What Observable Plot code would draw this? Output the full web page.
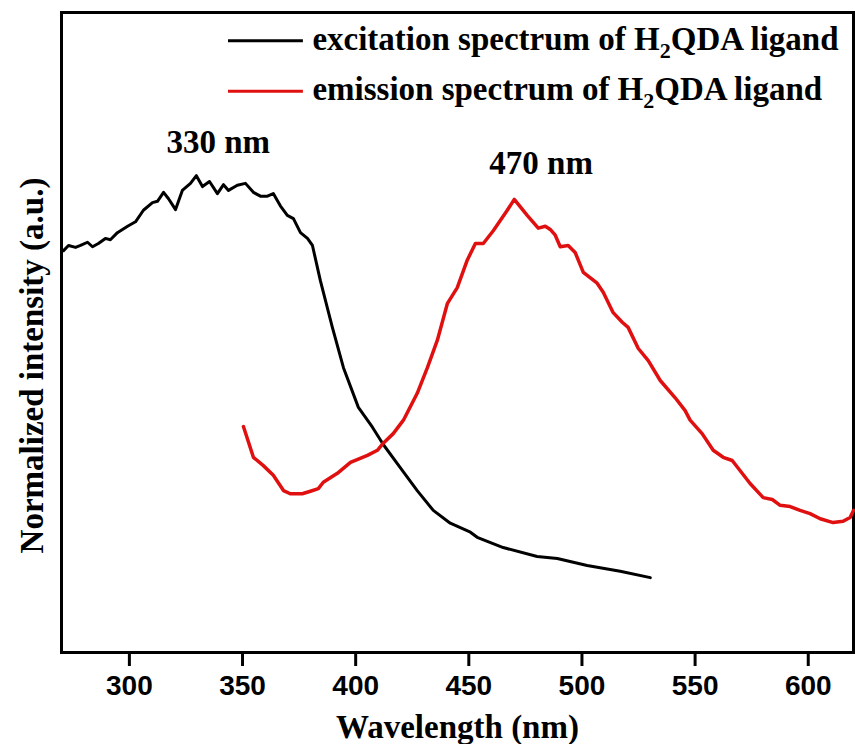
<!DOCTYPE html>
<html><head><meta charset="utf-8">
<script src="https://cdn.jsdelivr.net/npm/d3@7"></script>
<script src="https://cdn.jsdelivr.net/npm/@observablehq/plot@0.6"></script>
<style>body{margin:0;background:#fff} svg{display:block}</style>
</head><body><div id="chart"></div><script>
// Excitation spectrum (black)
const excWavelength = [270.9,273.1,276.2,278.4,281.5,283.7,286.3,289.4,291.6,294.7,299.2,302.7,306.2,310.2,312.4,315.1,317.3,320.4,323.4,327.0,329.6,332.3,335.4,338.9,341.6,343.8,347.7,351.3,354.8,357.9,361.0,363.6,366.7,369.8,372.5,375.6,378.7,380.9,384.4,389.7,394.6,401.2,407.4,412.2,419.7,427.2,434.3,441.8,450.7,453.7,465.2,480.2,489.1,502.3,516.9,530.2];
const excIntensity = [0.628,0.636,0.633,0.636,0.641,0.634,0.639,0.647,0.645,0.656,0.666,0.673,0.691,0.703,0.705,0.719,0.709,0.692,0.722,0.733,0.745,0.728,0.736,0.717,0.731,0.722,0.730,0.733,0.719,0.713,0.713,0.717,0.698,0.683,0.678,0.656,0.647,0.636,0.581,0.508,0.445,0.383,0.352,0.325,0.289,0.253,0.222,0.202,0.188,0.180,0.164,0.150,0.147,0.136,0.127,0.117];
// Emission spectrum (red)
const emWavelength = [350.4,354.8,359.2,363.6,368.1,371.1,376.4,380.0,383.5,385.7,391.9,397.7,405.2,409.6,412.2,416.6,421.1,427.2,431.7,436.1,440.5,444.9,449.3,452.9,456.4,460.8,463.9,467.0,470.1,475.8,480.7,483.8,486.0,488.2,490.4,493.9,497.0,500.6,506.7,509.4,513.8,517.8,520.4,524.9,529.3,534.6,541.2,545.6,547.8,553.1,558.0,562.4,566.4,574.3,580.1,584.1,587.6,592.0,596.4,600.8,605.3,611.0,615.4,618.5,620.0];
const emIntensity = [0.353,0.305,0.292,0.277,0.253,0.248,0.248,0.252,0.256,0.266,0.280,0.297,0.308,0.316,0.327,0.342,0.363,0.405,0.445,0.488,0.545,0.570,0.613,0.639,0.639,0.659,0.675,0.691,0.708,0.683,0.663,0.666,0.661,0.652,0.634,0.636,0.625,0.594,0.577,0.563,0.531,0.516,0.508,0.475,0.456,0.425,0.398,0.378,0.363,0.342,0.316,0.305,0.300,0.264,0.242,0.239,0.230,0.228,0.222,0.217,0.209,0.203,0.205,0.211,0.222];
const xTicks = [300,350,400,450,500,550,600];
const legendLabels = ["excitation spectrum of H2QDA ligand","emission spectrum of H2QDA ligand"];
const legendColors = ["#000000","#e01010"];
const legendLevels = [0.956,0.877];
const peakWavelengths = [330,470];
const peakLabels = ["330 nm","470 nm"];
const peakLevels = [0.781,0.747];

const exc = excWavelength.map((w,i)=>({w, v: excIntensity[i]}));
const em = emWavelength.map((w,i)=>({w, v: emIntensity[i]}));
const legend = legendLabels.map((t,i)=>({t, c: legendColors[i], y: legendLevels[i]}));
const peaks = peakLabels.map((t,i)=>({t, w: peakWavelengths[i], y: peakLevels[i]}));
const peakShift = [21, 27];

const serif = "'Liberation Serif','Times New Roman',serif";
const sans = "'Liberation Sans',Arial,sans-serif";

const plot = Plot.plot({
  width: 855, height: 744,
  marginTop: 12, marginRight: 2, marginBottom: 92, marginLeft: 61,
  style: {background: "#fff", color: "#000"},
  x: {domain: [270, 620]},
  y: {domain: [0, 1], axis: null},
  color: {type: "identity"},
  marks: [
    Plot.frame({stroke: "#000", strokeWidth: 3}),
    Plot.axisX({ticks: xTicks, tickSize: 14, tickPadding: 9, strokeWidth: 3, fontSize: 28, fontWeight: "bold", fontFamily: sans, label: null}),
    Plot.line(exc, {x: "w", y: "v", stroke: "#000", strokeWidth: 3, strokeLinejoin: "round"}),
    Plot.line(em, {x: "w", y: "v", stroke: legendColors[1], strokeWidth: 3.5, strokeLinejoin: "round"}),
    Plot.ruleY(legend, {y: "y", x1: 343.8, x2: 376.9, stroke: "c", strokeWidth: 3}),
    Plot.text(legend, {y: "y", x: 376.9, dx: 9, dy: 9, text: "t", textAnchor: "start", lineAnchor: "bottom", fontSize: 33, fontWeight: "bold", fontFamily: serif, fill: "#000"}),
    ...peaks.map((p, i) => Plot.text([p], {x: "w", y: "y", text: "t", dx: peakShift[i], fontSize: 33, fontWeight: "bold", fontFamily: serif, lineAnchor: "bottom", fill: "#000"})),
    Plot.text(["Wavelength (nm)"], {frameAnchor: "bottom", dy: 85, lineAnchor: "bottom", fontSize: 33, fontWeight: "bold", fontFamily: serif, fill: "#000"}),
    Plot.text(["Normalized intensity (a.u.)"], {frameAnchor: "left", textAnchor: "middle", dx: -19, dy: 33, rotate: -90, lineAnchor: "bottom", fontSize: 33, fontWeight: "bold", fontFamily: serif, fill: "#000"})
  ]
});
document.getElementById("chart").appendChild(plot);

// subscript 2 in H2QDA
plot.querySelectorAll("text").forEach(t => {
  const s = t.textContent;
  if (s.includes("H2QDA")) {
    const [a, b] = s.split("H2QDA");
    t.textContent = "";
    const ns = "http://www.w3.org/2000/svg";
    const t1 = document.createElementNS(ns, "tspan"); t1.textContent = a + "H"; t.appendChild(t1);
    const t2 = document.createElementNS(ns, "tspan"); t2.textContent = "2"; t2.setAttribute("dy", "8"); t2.setAttribute("font-size", "22"); t.appendChild(t2);
    const t3 = document.createElementNS(ns, "tspan"); t3.textContent = "QDA" + b; t3.setAttribute("dy", "-8"); t.appendChild(t3);
  }
});
</script></body></html>
